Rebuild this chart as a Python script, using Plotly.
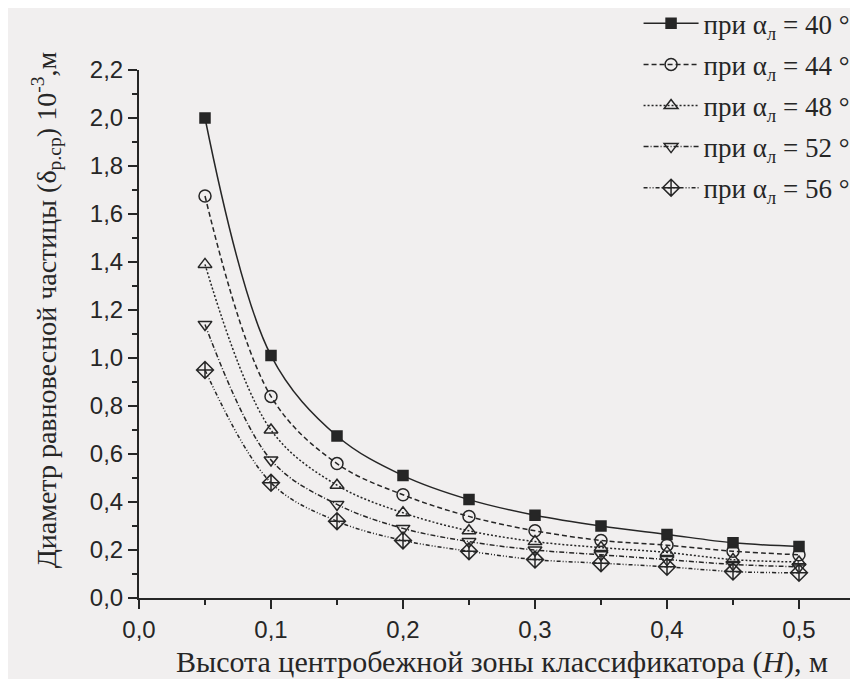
import plotly.graph_objects as go

heights = [0.05, 0.10, 0.15, 0.20, 0.25, 0.30, 0.35, 0.40, 0.45, 0.50]
d40 = [2.00, 1.01, 0.675, 0.51, 0.41, 0.345, 0.30, 0.265, 0.23, 0.215]
d44 = [1.675, 0.84, 0.56, 0.43, 0.34, 0.28, 0.24, 0.22, 0.195, 0.18]
d48 = [1.39, 0.70, 0.47, 0.355, 0.28, 0.235, 0.21, 0.19, 0.16, 0.15]
d52 = [1.14, 0.575, 0.39, 0.29, 0.235, 0.20, 0.18, 0.16, 0.14, 0.13]
d56 = [0.95, 0.48, 0.32, 0.24, 0.195, 0.16, 0.145, 0.13, 0.11, 0.105]
angles = ["40", "44", "48", "52", "56"]

INK = "#262626"
BG = "#f1efef"

series = [d40, d44, d48, d52, d56]
dashes = ["solid", "5px,3px", "2px,2px", "5px,2px,1px,2px", "4px,2px,1px,2px,1px,2px"]
symbols = ["square", "circle-open", "triangle-up-open", "triangle-down-open", "diamond-cross-open"]
sizes = [10, 12, 12, 12, 13]

fig = go.Figure()
for i, (ang, ys) in enumerate(zip(angles, series)):
    fig.add_trace(go.Scatter(
        x=heights, y=ys, mode="lines+markers",
        name=f"при α<sub>л</sub> = {ang}\u00a0°",
        legendgroup=f"g{i}",
        line=dict(color=INK, width=1.5, dash=dashes[i], shape="spline", smoothing=1.0),
        marker=dict(symbol=symbols[i], size=sizes[i], color=INK,
                    line=dict(color=INK, width=1.5)),
    ))

fig.update_layout(
    width=858, height=679,
    margin=dict(l=131, r=1, t=62, b=89, autoexpand=False),
    paper_bgcolor=BG, plot_bgcolor=BG,
    separators=", ",
    showlegend=True,
    legend=dict(
        x=0.987, xanchor="right", y=1.134, yanchor="top",
        bgcolor="rgba(0,0,0,0)",
        font=dict(family="Liberation Serif", size=27, color=INK),
        itemwidth=55, tracegroupgap=3, traceorder="grouped",
    ),
    xaxis=dict(
        range=[0, 0.55], showgrid=False, zeroline=False,
        showline=True, linecolor=INK, linewidth=2,
        ticks="outside", ticklen=9, tickwidth=2, tickcolor=INK,
        tick0=0, dtick=0.1, tickformat=".1f",
        minor=dict(ticks="outside", ticklen=5, tickwidth=2, tickcolor=INK, dtick=0.05),
        tickfont=dict(family="Liberation Sans", size=24, color=INK),
        title=dict(text="Высота центробежной зоны классификатора (<i>H</i>), м",
                   font=dict(family="Liberation Serif", size=30, color=INK), standoff=9),
    ),
    yaxis=dict(
        range=[0, 2.2], showgrid=False, zeroline=False,
        showline=True, linecolor=INK, linewidth=2,
        ticks="outside", ticklen=9, tickwidth=2, tickcolor=INK,
        tick0=0, dtick=0.2, tickformat=".1f",
        minor=dict(ticks="outside", ticklen=5, tickwidth=2, tickcolor=INK, dtick=0.1),
        tickfont=dict(family="Liberation Sans", size=24, color=INK),
    ),
    annotations=[dict(
        text="Диаметр равновесной частицы (δ<sub>р.ср</sub>) 10<sup>-3</sup>,м",
        xref="paper", yref="paper", x=-0.128, y=0.545, xanchor="center", yanchor="middle",
        textangle=-90, showarrow=False,
        font=dict(family="Liberation Serif", size=28, color=INK),
    )],
)

fig.write_html("out.html")
